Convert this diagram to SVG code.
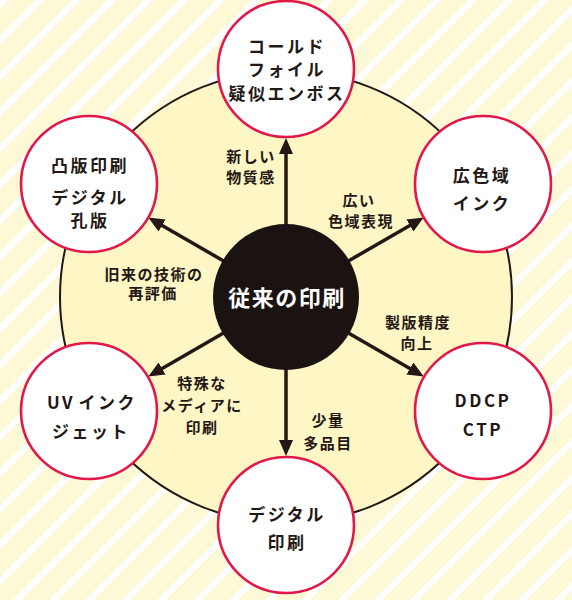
<svg xmlns="http://www.w3.org/2000/svg" width="572" height="600" viewBox="0 0 572 600">
<defs>
<pattern id="stripes" patternUnits="userSpaceOnUse" width="25.5" height="25.5" patternTransform="rotate(45)">
<rect width="25.5" height="25.5" fill="#fdf9d6"/>
<rect x="0" y="0" width="6" height="25.5" fill="#ffffff"/>
</pattern>
<marker id="ah" viewBox="0 0 16 14" refX="2" refY="7" markerWidth="16" markerHeight="14" markerUnits="userSpaceOnUse" orient="auto">
<path d="M0,0 L16,7 L0,14 z" fill="#231815"/>
</marker>
<style>
.node{fill:#ffffff;stroke:#e3184a;stroke-width:2.6}
.nt{font-family:"Noto Sans CJK JP","Noto Sans",sans-serif;font-weight:bold;font-size:17px;letter-spacing:2.5px;fill:#231815;text-anchor:middle}
.lt{font-family:"Noto Sans CJK JP","Noto Sans",sans-serif;font-weight:bold;font-size:15px;letter-spacing:1.5px;fill:#231815;text-anchor:middle}
.ct{font-family:"Noto Sans CJK JP","Noto Sans",sans-serif;font-weight:bold;font-size:22px;letter-spacing:1.5px;fill:#ffffff;text-anchor:middle}
.arr{stroke:#231815;stroke-width:3.5;fill:none;marker-end:url(#ah)}
</style>
</defs>
<rect width="572" height="600" fill="url(#stripes)"/>
<circle id="ring" cx="286" cy="297" r="226" fill="#fef6c4" stroke="#231815" stroke-width="2"/>
<g id="connectors">
<line class="arr" x1="286" y1="297" x2="286" y2="152"/>
<line class="arr" x1="286" y1="297" x2="411.6" y2="224.5"/>
<line class="arr" x1="286" y1="297" x2="411.6" y2="369.5"/>
<line class="arr" x1="286" y1="297" x2="286" y2="442"/>
<line class="arr" x1="286" y1="297" x2="160.4" y2="369.5"/>
<line class="arr" x1="286" y1="297" x2="160.4" y2="224.5"/>
</g>
<g id="labels">
<text class="lt" x="251" y="161.5">新しい</text>
<text class="lt" x="251" y="183">物質感</text>
<text class="lt" x="359" y="205.5">広い</text>
<text class="lt" x="361" y="226.5">色域表現</text>
<text class="lt" x="418" y="327.5">製版精度</text>
<text class="lt" x="417" y="348.5">向上</text>
<text class="lt" x="328" y="425.5">少量</text>
<text class="lt" x="328" y="448.5">多品目</text>
<text class="lt" x="202" y="388.5">特殊な</text>
<text class="lt" x="202" y="410.5">メディアに</text>
<text class="lt" x="202" y="432.5">印刷</text>
<text class="lt" x="154" y="279.5">旧来の技術の</text>
<text class="lt" x="153" y="298.5">再評価</text>
</g>
<g id="center">
<circle cx="286" cy="297" r="73" fill="#1a1311"/>
<text class="ct" x="287" y="305.5">従来の印刷</text>
</g>
<g id="node-top">
<circle class="node" cx="286" cy="69" r="68"/>
<text class="nt" x="287" y="53">コールド</text>
<text class="nt" x="287" y="76">フォイル</text>
<text class="nt" x="287" y="99.5">疑似エンボス</text>
</g>
<g id="node-tr">
<circle class="node" cx="483" cy="184" r="68"/>
<text class="nt" x="482" y="182">広色域</text>
<text class="nt" x="482" y="210">インク</text>
</g>
<g id="node-br">
<circle class="node" cx="483" cy="411" r="68"/>
<text class="nt" x="483" y="407">DDCP</text>
<text class="nt" x="483" y="436">CTP</text>
</g>
<g id="node-bottom">
<circle class="node" cx="286" cy="525" r="68"/>
<text class="nt" x="287" y="521">デジタル</text>
<text class="nt" x="287" y="549">印刷</text>
</g>
<g id="node-bl">
<circle class="node" cx="89" cy="411" r="68"/>
<text class="nt" x="92" y="409">UV <tspan dx="-3">インク</tspan></text>
<text class="nt" x="91" y="438">ジェット</text>
</g>
<g id="node-tl">
<circle class="node" cx="89" cy="184" r="68"/>
<text class="nt" x="90" y="172">凸版印刷</text>
<text class="nt" x="90" y="204">デジタル</text>
<text class="nt" x="90" y="227">孔版</text>
</g>
</svg>
